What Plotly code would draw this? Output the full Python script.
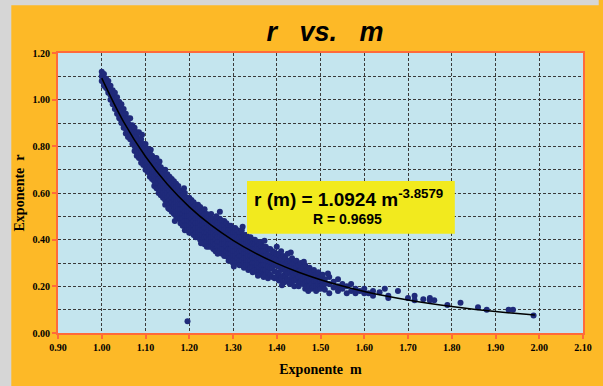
import plotly.graph_objects as go

# ---------------- data ----------------
# observed points, grouped by m column: col_m[i] -> list of r values col_r[i]
col_m = [1.000, 1.005, 1.010, 1.015, 1.020, 1.025, 1.030, 1.035, 1.040, 1.045,
         1.050, 1.055, 1.060, 1.065, 1.070, 1.075, 1.080, 1.085, 1.090, 1.095,
         1.100, 1.105, 1.110, 1.115, 1.120, 1.125, 1.130, 1.135, 1.140, 1.145,
         1.150, 1.155, 1.160, 1.165, 1.170, 1.175, 1.180, 1.185, 1.190, 1.195,
         1.200, 1.205, 1.210, 1.215, 1.220, 1.225, 1.230, 1.235, 1.240, 1.245,
         1.250, 1.255, 1.260, 1.265, 1.270, 1.275, 1.280, 1.285, 1.290, 1.295,
         1.300, 1.305, 1.310, 1.315, 1.320, 1.325, 1.330, 1.335, 1.340, 1.345,
         1.350, 1.355, 1.360, 1.365, 1.370, 1.375, 1.380, 1.385, 1.390, 1.395,
         1.400, 1.405, 1.410, 1.415, 1.420, 1.425, 1.430, 1.435, 1.440, 1.445,
         1.450, 1.455, 1.460, 1.465, 1.470, 1.475, 1.480, 1.485, 1.490, 1.495,
         1.500, 1.505, 1.510, 1.520, 1.530, 1.540, 1.550, 1.560, 1.570, 1.580,
         1.590, 1.600, 1.610, 1.620, 1.635, 1.647, 1.655, 1.677, 1.700, 1.715,
         1.735, 1.750, 1.760, 1.790, 1.820, 1.860, 1.880, 1.930, 1.940, 1.987,
         1.196,
         # scattered points at the edges of the cloud
         1.092, 1.132, 1.167, 1.188, 1.227, 1.262, 1.302, 1.322, 1.357, 1.372,
         1.412, 1.432, 1.462, 1.472, 1.517, 1.058, 1.112, 1.152]
col_r = [
    [1.12, 1.10, 1.08], [1.11, 1.09, 1.07, 1.06], [1.09, 1.07, 1.05], [1.08, 1.06, 1.04, 1.03],
    [1.06, 1.04, 1.02, 1.00], [1.04, 1.02, 1.00, 0.98], [1.03, 1.00, 0.98, 0.96],
    [1.01, 0.99, 0.97, 0.94], [0.99, 0.97, 0.95, 0.93, 0.92], [0.98, 0.95, 0.93, 0.91, 0.90],
    [0.96, 0.94, 0.92, 0.90, 0.88], [0.94, 0.92, 0.90, 0.875, 0.855],
    [0.92, 0.90, 0.88, 0.86, 0.84], [0.92, 0.89, 0.87, 0.85, 0.83],
    [0.89, 0.87, 0.85, 0.83, 0.81], [0.88, 0.86, 0.84, 0.82, 0.80, 0.78],
    [0.86, 0.84, 0.82, 0.80, 0.78, 0.76], [0.86, 0.83, 0.81, 0.79, 0.77, 0.75],
    [0.83, 0.81, 0.79, 0.77, 0.75, 0.73], [0.81, 0.79, 0.77, 0.755, 0.74, 0.72],
    [0.81, 0.78, 0.76, 0.74, 0.72, 0.70], [0.79, 0.77, 0.75, 0.73, 0.71, 0.69],
    [0.77, 0.75, 0.73, 0.71, 0.69, 0.67], [0.76, 0.74, 0.72, 0.70, 0.68, 0.66],
    [0.75, 0.73, 0.71, 0.69, 0.67, 0.65, 0.63], [0.75, 0.72, 0.70, 0.68, 0.66, 0.64, 0.62],
    [0.72, 0.70, 0.68, 0.66, 0.64, 0.62, 0.60], [0.71, 0.69, 0.67, 0.65, 0.63, 0.61, 0.59],
    [0.70, 0.68, 0.66, 0.64, 0.62, 0.60, 0.58], [0.70, 0.67, 0.65, 0.63, 0.61, 0.59, 0.57, 0.55],
    [0.68, 0.66, 0.64, 0.62, 0.60, 0.58, 0.56], [0.67, 0.65, 0.63, 0.61, 0.59, 0.57, 0.55, 0.53],
    [0.66, 0.64, 0.62, 0.60, 0.58, 0.56, 0.54, 0.52], [0.65, 0.63, 0.61, 0.59, 0.57, 0.55, 0.53, 0.51],
    [0.64, 0.62, 0.60, 0.58, 0.56, 0.54, 0.52, 0.50], [0.63, 0.61, 0.59, 0.57, 0.55, 0.53, 0.51, 0.49],
    [0.61, 0.59, 0.57, 0.55, 0.53, 0.51, 0.49, 0.47],
    [0.61, 0.59, 0.57, 0.55, 0.53, 0.51, 0.49, 0.47, 0.46],
    [0.60, 0.58, 0.56, 0.54, 0.52, 0.50, 0.48, 0.46, 0.44],
    [0.58, 0.56, 0.54, 0.52, 0.50, 0.48, 0.46, 0.44],
    [0.58, 0.56, 0.54, 0.52, 0.50, 0.48, 0.46, 0.44, 0.43],
    [0.57, 0.55, 0.53, 0.51, 0.49, 0.47, 0.45, 0.43],
    [0.56, 0.54, 0.52, 0.50, 0.48, 0.46, 0.44, 0.42],
    [0.55, 0.53, 0.51, 0.49, 0.47, 0.45, 0.43, 0.41],
    [0.55, 0.53, 0.51, 0.49, 0.47, 0.45, 0.43, 0.41],
    [0.54, 0.52, 0.50, 0.48, 0.46, 0.44, 0.42, 0.40],
    [0.52, 0.50, 0.48, 0.46, 0.44, 0.42, 0.40, 0.39],
    [0.53, 0.51, 0.49, 0.47, 0.45, 0.43, 0.41, 0.39, 0.38],
    [0.51, 0.49, 0.47, 0.45, 0.43, 0.41, 0.39, 0.37],
    [0.50, 0.48, 0.46, 0.44, 0.42, 0.40, 0.38, 0.37],
    [0.51, 0.49, 0.47, 0.45, 0.43, 0.41, 0.39, 0.37],
    [0.49, 0.47, 0.45, 0.43, 0.41, 0.39, 0.37, 0.36],
    [0.48, 0.46, 0.44, 0.42, 0.40, 0.38, 0.36, 0.35],
    [0.49, 0.47, 0.45, 0.43, 0.41, 0.39, 0.37, 0.35, 0.34],
    [0.52, 0.49, 0.47, 0.45, 0.43, 0.41, 0.39, 0.37, 0.35],
    [0.48, 0.46, 0.44, 0.42, 0.40, 0.38, 0.36, 0.34],
    [0.48, 0.46, 0.44, 0.42, 0.40, 0.38, 0.36, 0.34, 0.33],
    [0.47, 0.45, 0.43, 0.41, 0.39, 0.37, 0.35, 0.33],
    [0.46, 0.44, 0.42, 0.40, 0.38, 0.36, 0.34, 0.32, 0.31],
    [0.46, 0.44, 0.42, 0.40, 0.38, 0.36, 0.34, 0.32],
    [0.45, 0.43, 0.41, 0.39, 0.37, 0.35, 0.33, 0.31, 0.30],
    [0.45, 0.43, 0.41, 0.39, 0.37, 0.35, 0.33, 0.31],
    [0.44, 0.42, 0.40, 0.38, 0.36, 0.34, 0.32, 0.30],
    [0.43, 0.41, 0.39, 0.37, 0.35, 0.33, 0.31, 0.29],
    [0.44, 0.41, 0.39, 0.37, 0.35, 0.33, 0.31, 0.29],
    [0.42, 0.40, 0.38, 0.36, 0.34, 0.32, 0.30, 0.28],
    [0.42, 0.40, 0.38, 0.36, 0.34, 0.32, 0.30, 0.29],
    [0.41, 0.39, 0.37, 0.35, 0.33, 0.31, 0.29, 0.27],
    [0.41, 0.39, 0.37, 0.35, 0.33, 0.31, 0.29, 0.28],
    [0.40, 0.38, 0.36, 0.34, 0.32, 0.30, 0.28, 0.26],
    [0.40, 0.38, 0.36, 0.34, 0.32, 0.30, 0.28, 0.27],
    [0.39, 0.37, 0.35, 0.33, 0.31, 0.29, 0.27, 0.26],
    [0.38, 0.36, 0.34, 0.32, 0.30, 0.28, 0.26, 0.25],
    [0.39, 0.37, 0.35, 0.33, 0.31, 0.29, 0.27, 0.26],
    [0.37, 0.35, 0.33, 0.31, 0.29, 0.27, 0.25, 0.24],
    [0.37, 0.35, 0.33, 0.31, 0.29, 0.27, 0.25],
    [0.36, 0.335, 0.31, 0.285, 0.26, 0.235],
    [0.36, 0.33, 0.305, 0.28, 0.25],
    [0.35, 0.325, 0.30, 0.275, 0.24],
    [0.345, 0.32, 0.29, 0.265, 0.235],
    [0.37, 0.34, 0.315, 0.29, 0.26, 0.24],
    [0.335, 0.31, 0.285, 0.25, 0.225],
    [0.35, 0.32, 0.295, 0.27, 0.235],
    [0.33, 0.30, 0.275, 0.245, 0.215],
    [0.32, 0.295, 0.265, 0.24, 0.22],
    [0.34, 0.31, 0.28, 0.255, 0.23],
    [0.31, 0.285, 0.26, 0.23, 0.21],
    [0.32, 0.29, 0.265, 0.24, 0.22],
    [0.30, 0.275, 0.25, 0.225, 0.20],
    [0.31, 0.28, 0.255, 0.23],
    [0.29, 0.265, 0.24, 0.215, 0.20],
    [0.30, 0.27, 0.245, 0.22],
    [0.28, 0.255, 0.23, 0.21],
    [0.29, 0.265, 0.24, 0.215, 0.19],
    [0.27, 0.245, 0.22, 0.20],
    [0.28, 0.25, 0.225, 0.20],
    [0.26, 0.235, 0.21, 0.19],
    [0.27, 0.245, 0.22, 0.20],
    [0.25, 0.225, 0.20, 0.18],
    [0.26, 0.235, 0.21, 0.19],
    [0.24, 0.22, 0.20, 0.19], [0.25, 0.22, 0.205], [0.23, 0.21, 0.185], [0.24, 0.21, 0.17],
    [0.22, 0.195], [0.23, 0.20, 0.18], [0.21, 0.19], [0.20, 0.17], [0.21, 0.18],
    [0.19, 0.17],
    [0.18], [0.19, 0.17], [0.17], [0.18, 0.16], [0.175], [0.19], [0.16, 0.15],
    [0.18], [0.15], [0.16, 0.14],
    [0.145], [0.15, 0.14], [0.14], [0.12], [0.13], [0.11], [0.10], [0.10], [0.10],
    [0.075],
    [0.05],
    [0.85], [0.735], [0.48], [0.62], [0.385], [0.50], [0.285], [0.455], [0.245], [0.395],
    [0.205], [0.345], [0.305], [0.18], [0.255], [0.915], [0.785], [0.535],
]

# power-law trend line r(m) = 1.0924 m^-3.8579 as drawn
fit_m = [1.00, 1.05, 1.10, 1.15, 1.20, 1.25, 1.30, 1.35, 1.40, 1.45, 1.50,
         1.55, 1.60, 1.65, 1.70, 1.75, 1.80, 1.85, 1.90, 1.95, 1.99]
fit_r = [1.0924, 0.9049, 0.7563, 0.6371, 0.5406, 0.4619, 0.3970, 0.3432,
         0.2983, 0.2605, 0.2286, 0.2014, 0.1782, 0.1583, 0.1410, 0.1261,
         0.1131, 0.1018, 0.0919, 0.0831, 0.0768]

x_ticks = [0.90, 1.00, 1.10, 1.20, 1.30, 1.40, 1.50, 1.60, 1.70, 1.80, 1.90, 2.00, 2.10]
y_ticks = [0.00, 0.20, 0.40, 0.60, 0.80, 1.00, 1.20]

eq_text = "r (m) = 1.0924 m<sup>-3.8579</sup>"
r_text = "R = 0.9695"

# ---------------- figure ----------------
m_pts = [m for m, rs in zip(col_m, col_r) for _ in rs]
r_pts = [r for rs in col_r for r in rs]

ORANGE = "#FDB927"
PLOTBG = "#C4E5EE"
AXRED = "#FF6A3A"
NAVY = "#1F2A7A"
GRID = "#3A3A3A"

fig = go.Figure()
fig.add_trace(go.Scatter(
    x=m_pts, y=r_pts, mode="markers",
    marker=dict(color=NAVY, size=6, line=dict(width=0)),
    hoverinfo="skip", showlegend=False))
fig.add_trace(go.Scatter(
    x=fit_m, y=fit_r, mode="lines", line=dict(color="black", width=1.5, shape="spline"),
    hoverinfo="skip", showlegend=False))

W, H = 603, 386
L, R, T, B = 58, 11, 53, 51
pw, ph = W - L - R, H - T - B

def px(x):
    return (x - L) / pw

def py(y):
    return (H - B - y) / ph

tickfont = dict(family="Liberation Serif, Times New Roman, serif", size=10,
                color="black", weight="bold")
serif_title = dict(family="Liberation Serif, Times New Roman, serif", size=14, color="black")

fig.update_layout(
    width=W, height=H,
    margin=dict(l=L, r=R, t=T, b=B),
    paper_bgcolor=ORANGE, plot_bgcolor=PLOTBG,
    title=dict(text="<b><i>r\u00a0\u00a0\u00a0vs.\u00a0\u00a0\u00a0m</i></b>",
               xref="container", x=325 / W, xanchor="center",
               yref="container", y=1 - 31.5 / H, yanchor="middle",
               font=dict(family="Liberation Sans, Arial", size=27, color="black")),
    xaxis=dict(range=[0.9, 2.1], tickvals=x_ticks, tickformat=".2f",
               showgrid=True, gridcolor=GRID, griddash="3px,2px", gridwidth=1,
               showline=True, linecolor=AXRED, linewidth=2, mirror=True,
               ticks="outside", ticklen=4, tickcolor=AXRED, tickwidth=1.5,
               tickfont=tickfont, zeroline=False,
               title=dict(text="<b>Exponente\u00a0\u00a0m</b>", font=serif_title, standoff=12)),
    yaxis=dict(range=[0, 1.2], tickvals=y_ticks, tickformat=".2f",
               showgrid=True, gridcolor=GRID, griddash="3px,2px", gridwidth=1,
               minor=dict(dtick=0.1, tick0=0, showgrid=True, gridcolor=GRID,
                          griddash="3px,2px", gridwidth=1),
               showline=True, linecolor=AXRED, linewidth=2, mirror=True,
               ticks="outside", ticklen=4, tickcolor=AXRED, tickwidth=1.5,
               tickfont=tickfont, zeroline=False,
               title=dict(text="<b>Exponente\u00a0\u00a0r</b>", font=serif_title, standoff=5)),
    shapes=[
        dict(type="rect", xref="paper", yref="paper", x0=px(-2), x1=px(10.5),
             y0=py(H + 5), y1=py(-5), fillcolor="#D6D6D6", line=dict(width=0)),
        dict(type="rect", xref="paper", yref="paper", x0=px(-2), x1=px(W + 5),
             y0=py(5), y1=py(-5), fillcolor="#D6D6D6", line=dict(width=0)),
        dict(type="rect", xref="x", yref="y", x0=1.332, x1=1.807, y0=0.4255, y1=0.651,
             fillcolor="#F2EA1E", line=dict(width=0), layer="above"),
    ],
    annotations=[
        dict(text="<b>" + eq_text + "</b>", x=1.565, y=0.580, xref="x", yref="y",
             showarrow=False, xanchor="center", yanchor="middle",
             font=dict(family="Liberation Sans, Arial", size=19, color="black")),
        dict(text="<b>" + r_text + "</b>", x=1.562, y=0.489, xref="x", yref="y",
             showarrow=False, xanchor="center", yanchor="middle",
             font=dict(family="Liberation Sans, Arial", size=14, color="black")),
    ],
)

fig.write_html("out.html")
